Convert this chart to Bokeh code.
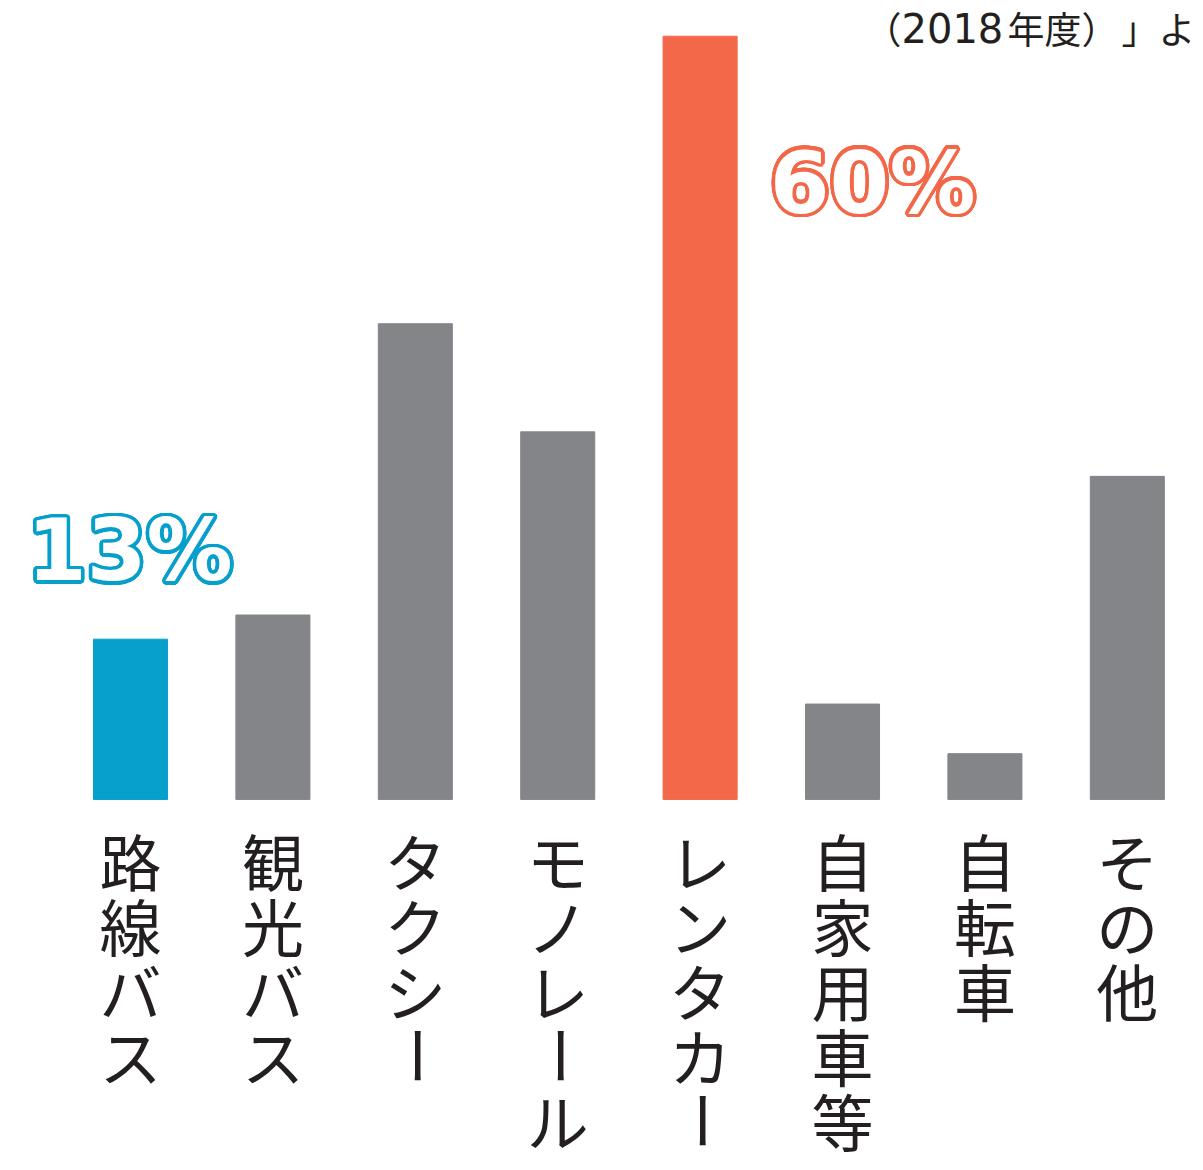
import math
from bokeh.plotting import figure
from bokeh.models import ColumnDataSource, Range1d
from bokeh.core.properties import value
from bokeh.embed import file_html
from bokeh.resources import INLINE

# ---- data ----
categories = ["路線バス", "観光バス", "タクシー", "モノレール", "レンタカー", "自家用車等", "自転車", "その他"]
shares = [12.6, 14.5, 37.4, 28.9, 60.0, 7.5, 3.6, 25.4]
bar_colors = ["#079FCC", "#848589", "#848589", "#848589", "#F26848", "#848589", "#848589", "#848589"]
highlight_labels = ["13%", "60%"]
highlight_index = [0, 4]
note_parts = ["（", "2018", "年度）", "」よ"]

W, H = 1203, 1170
Y0, Y1 = -29.17, 62.81
X0, X1 = -0.913, 7.535
upp_y = (Y1 - Y0) / H          # data units per pixel (y)
upp_x = (X1 - X0) / W          # data units per pixel (x)
base_px = 799                  # pixel row of the zero line


def px_to_y(py):
    return (base_px - py) * upp_y


def px_to_x(px):
    return X0 + px * upp_x


x = list(range(len(categories)))

p = figure(width=W, height=H, output_backend="svg", toolbar_location=None,
           x_range=Range1d(X0, X1), y_range=Range1d(Y0, Y1),
           min_border=0, outline_line_color=None, background_fill_color="white",
           border_fill_color="white")
p.axis.visible = False
p.grid.visible = False

src = ColumnDataSource(dict(x=x, top=shares, color=bar_colors))
p.vbar(x="x", top="top", bottom=0, width=0.52, color="color", source=src)

# vertical category labels: one character per row, long-vowel mark turned upright
cx, cy, ct, ca = [], [], [], []
for i, cat in enumerate(categories):
    for j, ch in enumerate(cat):
        cx.append(x[i])
        cy.append(px_to_y(860 + 65 * j))
        ct.append(ch)
        ca.append(math.pi / 2 if ch == "ー" else 0.0)
lab = ColumnDataSource(dict(x=cx, y=cy, text=ct, angle=ca))
p.text(x="x", y="y", text="text", angle="angle", source=lab, text_align="center",
       text_baseline="middle", text_font=value("Noto Sans CJK JP"), text_font_size="62px",
       text_color="#231F20")

# highlighted percentage labels (outlined)
hl = ColumnDataSource(dict(
    x=[highlight_index[0] - 0.005, highlight_index[1] + 1.212],
    y=[19.6, 48.5],
    text=highlight_labels,
    col=[bar_colors[highlight_index[0]], bar_colors[highlight_index[1]]],
))
common = dict(source=hl, text_align="center", text_baseline="alphabetic",
              text_font=value("DejaVu Sans"), text_font_style="bold", text_font_size="86px")
r = 3.6
n = 24
for k in range(n):
    a = 2 * math.pi * k / n
    p.text(x="x", y="y", text="text", text_color="col",
           x_offset=r * math.cos(a), y_offset=r * math.sin(a), **common)
p.text(x="x", y="y", text="text", text_color="white", **common)

# note at top right
note_x = [px_to_x(v) for v in (864, 901, 1007, 1121)]
note_font = ["Noto Sans CJK JP", "DejaVu Sans", "Noto Sans CJK JP", "Noto Sans CJK JP"]
note_size = ["37px", "40px", "37px", "37px"]
for t, nx, f, s in zip(note_parts, note_x, note_font, note_size):
    p.text(x=[nx], y=[px_to_y(27.5)], text=[t], text_align="left", text_baseline="middle",
           text_font=value(f), text_font_size=s, text_color="#231F20")

open("out.html", "w").write(file_html(p, INLINE))
